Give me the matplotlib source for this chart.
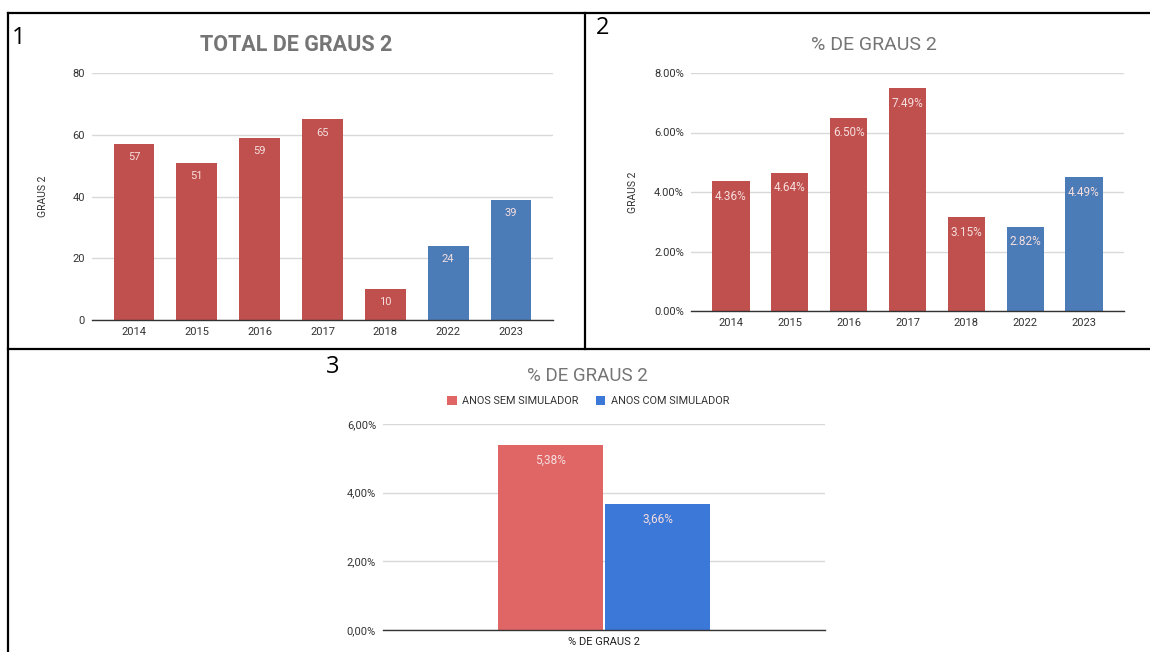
import matplotlib
matplotlib.use("Agg")
import matplotlib.pyplot as plt
from matplotlib.lines import Line2D
from matplotlib.patches import Patch
from matplotlib.ticker import FuncFormatter

plt.rcParams['font.family'] = ['Roboto', 'DejaVu Sans']

# ---- data ----
years = ['2014', '2015', '2016', '2017', '2018', '2022', '2023']
total_graus2 = [57, 51, 59, 65, 10, 24, 39]
pct_graus2 = [4.36, 4.64, 6.50, 7.49, 3.15, 2.82, 4.49]
with_simulator = [False, False, False, False, False, True, True]
group_labels = ['ANOS SEM SIMULADOR', 'ANOS COM SIMULADOR']
group_pct = [5.38, 3.66]
group_category = '% DE GRAUS 2'

RED = '#bf504d'
BLUE = '#4c7cb7'
RED3 = '#e06666'
BLUE3 = '#3c78d8'
TITLE_C = '#757575'
TICK_C = '#333333'
GRID_C = '#d9d9d9'
LABEL_C = '#f6dede'

W, H = 1150, 652
fig = plt.figure(figsize=(W / 100, H / 100), dpi=100)


def box(l, t, r, b):
    return [l / W, 1 - b / H, (r - l) / W, (b - t) / H]


def style(ax):
    for s in ['top', 'right', 'left']:
        ax.spines[s].set_visible(False)
    ax.spines['bottom'].set_color('#333333')
    ax.spines['bottom'].set_linewidth(1.0)
    ax.yaxis.grid(True, color=GRID_C, linewidth=1.0)
    ax.set_axisbelow(True)
    ax.tick_params(axis='both', length=0, labelsize=8, colors=TICK_C, pad=5)


colors = [BLUE if s else RED for s in with_simulator]
x = list(range(len(years)))

# ---- panel 1 ----
ax1 = fig.add_axes(box(92, 73, 553, 320))
style(ax1)
ax1.bar(x, total_graus2, width=0.65, color=colors)
ax1.set_ylim(0, 80)
ax1.set_yticks([0, 20, 40, 60, 80])
ax1.set_xlim(-0.67, len(years) - 1 + 0.67)
ax1.set_xticks(x)
ax1.set_xticklabels(years)
ax1.set_ylabel('GRAUS 2', fontsize=7.5, color='#333333', labelpad=18)
for xi, v in zip(x, total_graus2):
    ax1.annotate(f'{v}', (xi, v), xytext=(0, -6), textcoords='offset points',
                 ha='center', va='top', fontsize=8, color=LABEL_C)
fig.text(296 / W, 1 - 45 / H, 'TOTAL DE GRAUS 2', ha='center', va='center',
         fontsize=15.5, fontweight='bold', color=TITLE_C)

# ---- panel 2 ----
ax2 = fig.add_axes(box(691, 73, 1124, 311))
style(ax2)
ax2.bar(x, pct_graus2, width=0.63, color=colors)
ax2.set_ylim(0, 8)
ax2.set_yticks([0, 2, 4, 6, 8])
ax2.yaxis.set_major_formatter(FuncFormatter(lambda v, p: f'{v:.2f}%'))
ax2.set_xlim(-0.68, len(years) - 1 + 0.68)
ax2.set_xticks(x)
ax2.set_xticklabels(years)
ax2.set_ylabel('GRAUS 2', fontsize=7.5, color='#333333', labelpad=12)
for xi, v in zip(x, pct_graus2):
    ax2.annotate(f'{v:.2f}%', (xi, v), xytext=(0, -6), textcoords='offset points',
                 ha='center', va='top', fontsize=8.5, color=LABEL_C)
fig.text(874 / W, 1 - 45 / H, '% DE GRAUS 2', ha='center', va='center',
         fontsize=14, color=TITLE_C)

# ---- panel 3 ----
ax3 = fig.add_axes(box(383, 424, 825, 630))
style(ax3)
bw = 1.0
offs = [-0.51, 0.51]
for o, v, c in zip(offs, group_pct, [RED3, BLUE3]):
    ax3.bar(o, v, width=bw, color=c)
    ax3.annotate(f'{v:.2f}%'.replace('.', ','), (o, v), xytext=(0, -6),
                 textcoords='offset points', ha='center', va='top',
                 fontsize=8.5, color=LABEL_C)
ax3.set_xlim(-2.1, 2.1)
ax3.set_ylim(0, 6)
ax3.set_yticks([0, 2, 4, 6])
ax3.yaxis.set_major_formatter(FuncFormatter(lambda v, p: f'{v:.2f}%'.replace('.', ',')))
ax3.set_xticks([0])
ax3.set_xticklabels([group_category])
ax3.tick_params(axis='x', colors='#222222')
fig.text(587 / W, 1 - 376 / H, '% DE GRAUS 2', ha='center', va='center',
         fontsize=13.5, color=TITLE_C)
handles = [Patch(facecolor=RED3), Patch(facecolor=BLUE3)]
fig.legend(handles, group_labels, loc='center', bbox_to_anchor=(588 / W, 1 - 401 / H),
           ncol=2, frameon=False, fontsize=7.8, handlelength=0.9, handleheight=0.9,
           handletextpad=0.5, columnspacing=1.6, labelcolor='#333333')

# ---- panel numbers ----
num_font = ['Open Sans', 'DejaVu Sans']
fig.text(12 / W, 1 - 38 / H, '1', fontsize=17, family=num_font, va='center', ha='left')
fig.text(596 / W, 1 - 28 / H, '2', fontsize=17, family=num_font, va='center', ha='left')
fig.text(326 / W, 1 - 367 / H, '3', fontsize=17, family=num_font, va='center', ha='left')

# ---- borders ----
def hline(y, x0, x1):
    fig.add_artist(Line2D([x0 / W, x1 / W], [1 - y / H, 1 - y / H], color='black', lw=1.6))


def vline(xp, y0, y1):
    fig.add_artist(Line2D([xp / W, xp / W], [1 - y0 / H, 1 - y1 / H], color='black', lw=1.6))


hline(13, 8, 1150)
hline(349, 8, 1150)
vline(8, 13, 652)
vline(585, 13, 349)

fig.savefig('out.png', dpi=100, facecolor='white')
